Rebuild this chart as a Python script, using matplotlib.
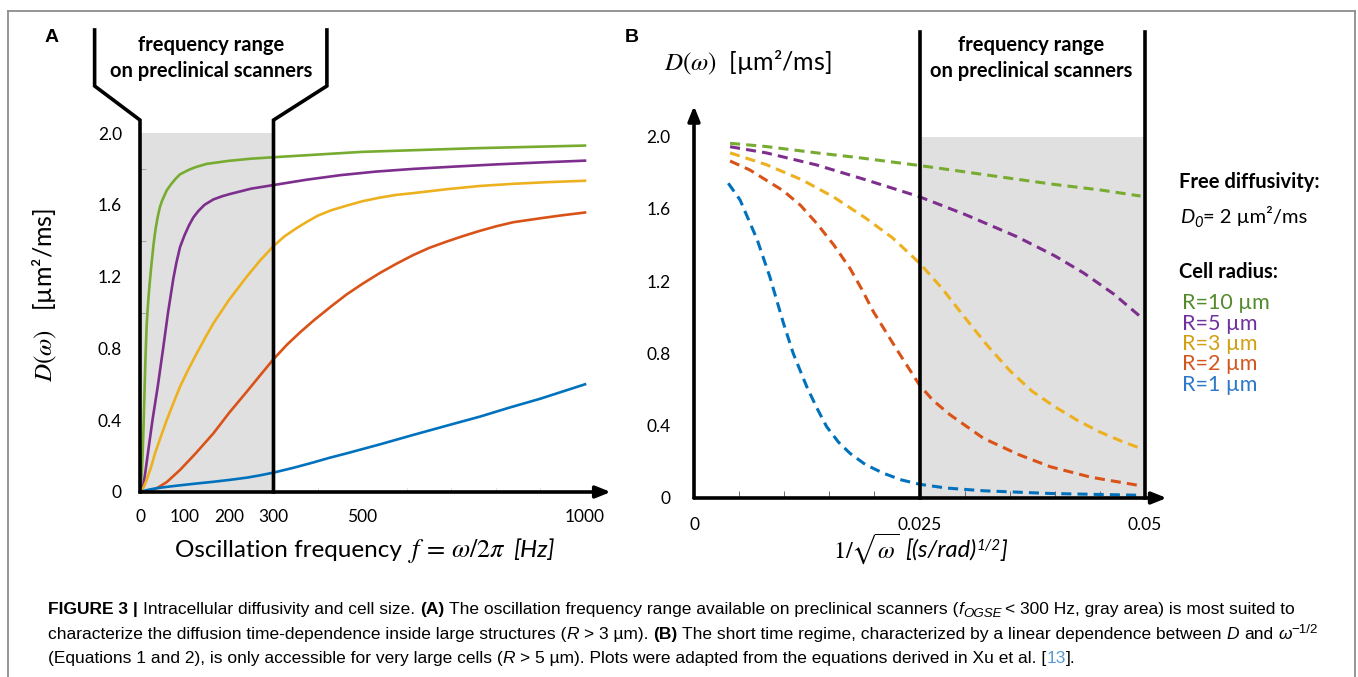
import matplotlib
matplotlib.use("Agg")
import matplotlib.pyplot as plt
from matplotlib.lines import Line2D

W, H = 1358, 677
plt.rcParams["font.family"] = ["Lato", "DejaVu Sans"]
plt.rcParams["mathtext.fontset"] = "stix"
CAPTION_FONT = ["Liberation Sans Narrow", "Liberation Sans"]

# ---------------- data ----------------
radius_labels = ["R=10 µm", "R=5 µm", "R=3 µm", "R=2 µm", "R=1 µm"]
line_colors = ["#77AC30", "#7E2F8E", "#EDB120", "#D95319", "#0072BD"]
label_colors = ["#548a2c", "#7030a0", "#d0a010", "#d2561e", "#2e78c8"]

d_free = 2.0            # free diffusivity, um^2/ms
scanner_max_hz = 300    # upper limit of preclinical OGSE range
scanner_b_range = [0.025, 0.05]

# panel A: D(omega) vs oscillation frequency f [Hz]
f_r10 = [0, 3, 4.5, 6, 7.5, 9, 10.5, 12, 13.5, 15, 17, 19, 22, 25, 27.5, 30, 33, 36, 40, 45,
         50, 60, 70, 80, 90, 110, 125, 150, 200, 250, 300, 400, 500, 750, 1000]
d_r10 = [0, 0.06, 0.13, 0.22, 0.33, 0.46, 0.59, 0.72, 0.83, 0.93, 1.01, 1.08, 1.17, 1.25, 1.31, 1.37, 1.43, 1.48, 1.535, 1.59,
         1.625, 1.68, 1.715, 1.745, 1.77, 1.795, 1.81, 1.828, 1.845, 1.857, 1.865, 1.88, 1.895, 1.915, 1.93]
f_r5 = [0, 4, 7, 12, 18, 28, 40, 52, 63, 75, 82, 90, 100, 110, 120, 131, 145, 165, 185, 202,
        250, 300, 375, 450, 530, 614, 700, 800, 900, 1000]
d_r5 = [0, 0.008, 0.03, 0.11, 0.22, 0.40, 0.59, 0.80, 1.0, 1.19, 1.28, 1.365, 1.43, 1.485, 1.53, 1.565, 1.60, 1.63, 1.648, 1.66,
        1.69, 1.71, 1.74, 1.765, 1.785, 1.80, 1.812, 1.825, 1.836, 1.846]
f_r3 = [0, 8, 15, 25, 34, 47, 60, 75, 90, 108, 127, 146, 165, 200, 240, 270, 300, 325, 352, 375,
        400, 430, 464, 500, 539, 575, 614, 690, 764, 840, 914, 1000]
d_r3 = [0, 0.025, 0.067, 0.14, 0.217, 0.31, 0.40, 0.495, 0.587, 0.68, 0.77, 0.857, 0.94, 1.07, 1.20, 1.29, 1.37, 1.425, 1.47, 1.505,
        1.54, 1.57, 1.595, 1.62, 1.64, 1.655, 1.665, 1.687, 1.705, 1.717, 1.726, 1.734]
f_r2 = [0, 20, 37, 60, 90, 125, 165, 200, 240, 270, 300, 330, 360, 390, 430, 464, 500, 539, 575, 614,
        650, 689, 725, 764, 800, 839, 900, 950, 1000]
d_r2 = [0, 0.005, 0.02, 0.055, 0.123, 0.215, 0.327, 0.44, 0.559, 0.65, 0.74, 0.82, 0.89, 0.955, 1.035, 1.10, 1.16, 1.22, 1.27, 1.32,
        1.36, 1.395, 1.425, 1.455, 1.48, 1.503, 1.525, 1.542, 1.557]
f_r1 = [0, 10, 20, 35, 52, 75, 100, 130, 165, 200, 240, 270, 300, 345, 390, 425, 464, 540, 614, 690,
        764, 830, 900, 950, 1000]
d_r1 = [0, 0.007, 0.013, 0.02, 0.026, 0.033, 0.04, 0.048, 0.057, 0.067, 0.08, 0.093, 0.108, 0.135, 0.165, 0.19, 0.215, 0.266, 0.318, 0.37,
        0.42, 0.47, 0.52, 0.56, 0.60]

# panel B: D(omega) vs 1/sqrt(omega) [(s/rad)^1/2]
x_r10 = [0.004, 0.008, 0.0136, 0.018, 0.025, 0.030, 0.0358, 0.040, 0.045, 0.0495]
b_r10 = [1.963, 1.945, 1.91, 1.885, 1.84, 1.805, 1.764, 1.735, 1.705, 1.671]
x_r5 = [0.004, 0.008, 0.0136, 0.0191, 0.025, 0.030, 0.0358, 0.040, 0.0432, 0.0465, 0.0495]
b_r5 = [1.944, 1.91, 1.843, 1.76, 1.667, 1.57, 1.446, 1.34, 1.245, 1.13, 1.003]
x_r3 = [0.004, 0.008, 0.012, 0.0155, 0.019, 0.022, 0.025, 0.0275, 0.030, 0.0325, 0.035, 0.0375,
        0.040, 0.0425, 0.045, 0.0475, 0.0495]
b_r3 = [1.91, 1.845, 1.76, 1.665, 1.55, 1.44, 1.30, 1.16, 1.0, 0.845, 0.705, 0.59,
        0.505, 0.43, 0.365, 0.312, 0.275]
x_r2 = [0.004, 0.0062, 0.0099, 0.0118, 0.0136, 0.0155, 0.0173, 0.0186, 0.0199, 0.0212, 0.0225, 0.025,
        0.0265, 0.0284, 0.0321, 0.036, 0.0395, 0.044, 0.0495]
b_r2 = [1.865, 1.815, 1.70, 1.62, 1.52, 1.40, 1.27, 1.155, 1.03, 0.925, 0.82, 0.625,
        0.54, 0.46, 0.33, 0.24, 0.173, 0.115, 0.068]
x_r1 = [0.0038, 0.0051, 0.007, 0.0084, 0.0099, 0.011, 0.0125, 0.0136, 0.0147, 0.016, 0.0173, 0.019,
        0.021, 0.023, 0.025, 0.028, 0.0321, 0.0395, 0.0495]
b_r1 = [1.742, 1.65, 1.43, 1.225, 0.97, 0.80, 0.616, 0.50, 0.395, 0.31, 0.247, 0.185,
        0.137, 0.10, 0.076, 0.055, 0.04, 0.025, 0.015]

freq_A = [f_r10, f_r5, f_r3, f_r2, f_r1]
diff_A = [d_r10, d_r5, d_r3, d_r2, d_r1]
inv_B = [x_r10, x_r5, x_r3, x_r2, x_r1]
diff_B = [b_r10, b_r5, b_r3, b_r2, b_r1]

a_xticks = [0, 100, 200, 300, 500, 1000]
a_xticklabels = ["0", "100", "200", "300", "500", "1000"]
a_xminor = [400, 500, 600, 700, 800, 900, 1000]
y_ticks = [0, 0.4, 0.8, 1.2, 1.6, 2.0]
y_ticklabels = ["0", "0.4", "0.8", "1.2", "1.6", "2.0"]
a_yminor = [1.0, 1.4, 1.8]
b_xticks = [0, 0.025, 0.05]
b_xticklabels = ["0", "0.025", "0.05"]
b_xminor = [0.005, 0.01, 0.015, 0.02, 0.03, 0.035, 0.04, 0.045]

# ---------------- helpers ----------------
fig = plt.figure(figsize=(W / 100, H / 100), dpi=100)
renderer = fig.canvas.get_renderer()


def fx(x):
    return x / W


def fy(y):
    return 1 - y / H


def text_width(s, **kw):
    t = fig.text(0, 0, s, **kw)
    w = t.get_window_extent(renderer).width
    t.remove()
    return w


def rich(x, y, segs, size, family, ha="left"):
    """one line of text built from styled pieces, x/y in pixels (baseline)"""
    arts, cur = [], x
    for text, opts in segs:
        o = dict(opts)
        dy = o.pop("dy", 0)
        gap = o.pop("gap", True)
        o.setdefault("fontsize", size)
        o.setdefault("family", family)
        t = fig.text(fx(cur), fy(y - dy), text, va="baseline", ha="left", **o)
        cur = t.get_window_extent(renderer).x1
        if gap:
            cur += text_width("a a", **o) - text_width("aa", **o)
        arts.append(t)
    width = cur - x
    if ha == "center":
        for t in arts:
            t.set_x(t.get_position()[0] - width / 2 / W)
    return arts, width


black = dict(color="k", lw=2.6, clip_on=False, zorder=5, solid_joinstyle="miter")
arrow = dict(arrowstyle="-|>,head_length=0.55,head_width=0.22", color="k",
             lw=2.6, shrinkA=0, shrinkB=0, mutation_scale=16)

# ---------------- panel A ----------------
axA = fig.add_axes([fx(140), fy(492), 470.8 / W, 359 / H])
axA.set_xlim(0, 1058)
axA.set_ylim(0, 2.0)
axA.fill_between([0, scanner_max_hz], 0, d_free, color="#e0e0e0", lw=0, zorder=0)
for f, d, c in zip(freq_A, diff_A, line_colors):
    axA.plot(f, d, color=c, lw=1.9, zorder=3, solid_joinstyle="round")

# funnel marking the scanner range
axA.plot([-102, -102, 0, 0], [2.574, 2.262, 2.072, 0], **black)
axA.plot([420, 420, scanner_max_hz, scanner_max_hz], [2.574, 2.262, 2.072, 0], **black)
axA.annotate("", xy=(1058, 0), xytext=(0, 0), arrowprops=arrow, annotation_clip=False)

axA.set_xticks(a_xticks, a_xticklabels)
axA.set_xticks(a_xminor, minor=True)
axA.set_yticks(y_ticks, y_ticklabels)
axA.set_yticks(a_yminor, minor=True)
axA.tick_params(which="major", length=0, labelsize=12.5)
axA.tick_params(axis="x", which="major", pad=12)
axA.tick_params(axis="y", which="major", pad=13)
axA.tick_params(axis="x", which="minor", direction="in", length=3, color="#d0d0d0")
axA.tick_params(axis="y", which="minor", direction="in", length=4, color="#999999")

# ---------------- panel B ----------------
axB = fig.add_axes([fx(694), fy(498), 473.6 / W, 361.4 / H])
axB.set_xlim(0, 0.0525)
axB.set_ylim(0, 2.0)
axB.fill_between(scanner_b_range, 0, d_free, color="#e0e0e0", lw=0, zorder=0)
for xv, d, c in zip(inv_B, diff_B, line_colors):
    axB.plot(xv, d, color=c, lw=2.2, ls=(0, (3.3, 2.0)), zorder=3)
for xv in scanner_b_range:
    axB.plot([xv, xv], [0, 2.58], **black)
axB.annotate("", xy=(0.0524, 0), xytext=(0, 0), arrowprops=arrow, annotation_clip=False)
axB.annotate("", xy=(0, 2.17), xytext=(0, 0), arrowprops=arrow, annotation_clip=False)

axB.set_xticks(b_xticks, b_xticklabels)
axB.set_xticks(b_xminor, minor=True)
axB.set_yticks(y_ticks, y_ticklabels)
axB.tick_params(which="major", length=0, labelsize=12.5)
axB.tick_params(axis="x", which="major", pad=14)
axB.tick_params(axis="y", which="major", pad=17)
axB.tick_params(axis="x", which="minor", direction="in", length=5, color="#555555")
axB.tick_params(axis="y", which="minor", length=0)

for ax in (axA, axB):
    for s in ax.spines.values():
        s.set_visible(False)
    ax.patch.set_alpha(0)

# ---------------- labels ----------------
fig.text(fx(52), fy(37), "A", fontsize=14, weight="bold", family="Liberation Sans", ha="center", va="center")
fig.text(fx(632), fy(37), "B", fontsize=14, weight="bold", family="Liberation Sans", ha="center", va="center")

for xc in (211, 1031):
    fig.text(fx(xc), fy(45), "frequency range", fontsize=14.5, weight="bold", ha="center", va="center")
    fig.text(fx(xc), fy(71), "on preclinical scanners", fontsize=14.5, weight="bold", ha="center", va="center")

fig.text(fx(45), fy(295), "$D(\\omega)$   [µm²/ms]", fontsize=18, rotation=90, ha="center", va="center")
fig.text(fx(664), fy(63), "$D(\\omega)$  [µm²/ms]", fontsize=18, ha="left", va="center")

rich(365, 557, [("Oscillation frequency", {}),
                ("$f\\,=\\,\\omega/2\\pi$", {"fontsize": 19}),
                ("[Hz]", {"style": "italic", "gap": False})],
     17.5, "Lato", ha="center")
rich(920, 558, [("$1/\\sqrt{\\omega}$", {"fontsize": 17.5}),
                ("[(s/rad)", {"style": "italic", "gap": False}),
                ("1/2", {"style": "italic", "fontsize": 11, "dy": 8, "gap": False}),
                ("]", {"style": "italic", "gap": False})],
     17, "Lato", ha="center")

# legend block
fig.text(fx(1179), fy(182), "Free diffusivity:", fontsize=14.5, weight="bold", va="center")
rich(1180, 223, [("D", {"style": "italic", "gap": False}),
                 ("0", {"style": "italic", "fontsize": 10.5, "dy": -4, "gap": False}),
                 ("= 2 µm²/ms", {"gap": False})],
     14.5, "Lato")
fig.text(fx(1179), fy(272), "Cell radius:", fontsize=14.5, weight="bold", va="center")
for i, (lab, c) in enumerate(zip(radius_labels, label_colors)):
    fig.text(fx(1182), fy(303 + 20.5 * i), lab, fontsize=15.5, color=c, va="center")

# frame
for xs, ys in (([8, 1355], [11, 11]), ([8, 8], [11, 677]), ([1355, 1355], [11, 677])):
    fig.add_artist(Line2D([fx(v) for v in xs], [fy(v) for v in ys],
                          transform=fig.transFigure, color="#8c8c8c", lw=1.3))

# caption
bold = {"weight": "bold"}
ital = {"style": "italic"}
caption_1 = [("FIGURE 3 |", bold),
             ("Intracellular diffusivity and cell size.", {}),
             ("(A)", bold),
             ("The oscillation frequency range available on preclinical scanners (", {"gap": False}),
             ("f", {"style": "italic", "gap": False}),
             ("OGSE", {"style": "italic", "fontsize": 8.5, "dy": -3}),
             ("< 300 Hz, gray area) is most suited to", {"gap": False})]
caption_2 = [("characterize the diffusion time-dependence inside large structures (", {"gap": False}),
             ("R", ital),
             ("> 3 µm).", {}),
             ("(B)", bold),
             ("The short time regime, characterized by a linear dependence between", {}),
             ("D", ital),
             ("and", {}),
             ("ω", {"style": "italic", "gap": False}),
             ("−1/2", {"fontsize": 8.5, "dy": 6, "gap": False})]
caption_3 = [("(Equations 1 and 2), is only accessible for very large cells (", {"gap": False}),
             ("R", ital),
             ("> 5 µm). Plots were adapted from the equations derived in Xu et al. [", {"gap": False}),
             ("13", {"color": "#5b9bd5", "gap": False}),
             ("].", {"gap": False})]

cap_size = 11.0
arts, w = rich(48, 614, caption_1, cap_size, CAPTION_FONT)
for a in arts:
    a.remove()
scale = 1242 / w
for line, yb in ((caption_1, 614), (caption_2, 639), (caption_3, 663)):
    segs = []
    for s, o in line:
        o = dict(o)
        if "fontsize" in o:
            o["fontsize"] *= scale
        segs.append((s, o))
    rich(48, yb, segs, cap_size * scale, CAPTION_FONT)

fig.savefig("out.png", dpi=100)
